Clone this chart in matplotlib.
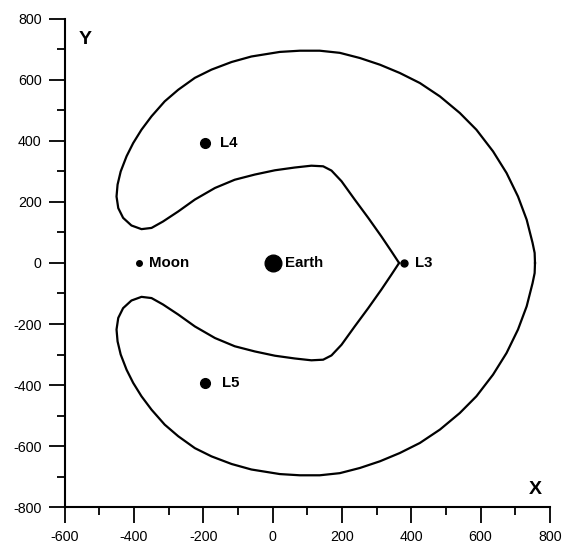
import matplotlib.pyplot as plt

plt.rcParams['font.family'] = ['Liberation Sans', 'DejaVu Sans']
plt.rcParams['axes.unicode_minus'] = False

# upper half of the curve, from the right edge round to the cusp near L3
curve_x = [757, 756, 750, 733, 708, 675, 636, 588, 540, 483, 425, 367, 310, 252,
           194, 136, 79, 21, -61, -118, -176, -224, -272, -311, -349, -378,
           -402, -421, -438, -447, -450, -445, -431, -407, -378, -349, -316,
           -272, -224, -166, -109, -51, 7, 64, 112, 146, 170, 199, 237, 276,
           314, 343, 365]
curve_y = [0, 33, 66, 142, 218, 295, 366, 437, 492, 546, 590, 623, 650, 672,
           689, 696, 696, 692, 677, 659, 634, 607, 568, 530, 481, 437,
           393, 350, 300, 257, 218, 180, 148, 123, 111, 115, 136,
           169, 208, 246, 273, 290, 304, 313, 319, 317, 303, 268, 208, 148,
           87, 38, 0]

# bodies and lagrange points
names = ['Moon', 'Earth', 'L3', 'L4', 'L5']
pts_x = [-385, 0, 379, -195, -195]
pts_y = [0, 0, 0, 395, -392]
pt_size = [4, 12, 5, 7, 7]
lbl_x = [-357, 36, 410, -152, -147]

fig = plt.figure(figsize=(5.64, 5.47), dpi=100)
ax = fig.add_axes([0.1144, 0.0731, 0.8606, 0.8922])

ax.plot(curve_x, curve_y, color='black', lw=1.6, solid_joinstyle='round')
ax.plot(curve_x, [-v for v in curve_y], color='black', lw=1.6,
        solid_joinstyle='round')

for i in range(len(names)):
    ax.plot(pts_x[i], pts_y[i], 'o', color='black', ms=pt_size[i])
    ax.text(lbl_x[i], pts_y[i], names[i], fontsize=10.8, fontweight='bold',
            va='center', ha='left')

ax.set_xlim(-600, 800)
ax.set_ylim(-800, 800)
ax.set_xticks(range(-600, 801, 200))
ax.set_yticks(range(-800, 801, 200))
ax.set_xticks(range(-500, 800, 200), minor=True)
ax.set_yticks(range(-700, 800, 200), minor=True)

for s in ['top', 'right']:
    ax.spines[s].set_visible(False)
for s in ['left', 'bottom']:
    ax.spines[s].set_linewidth(1.5)

ax.tick_params(which='major', direction='out', length=11.5, width=1.3,
               labelsize=10.3, pad=5)
ax.tick_params(which='minor', direction='out', length=5.5, width=1.3)

ax.text(0.03, 0.957, 'Y', transform=ax.transAxes, fontsize=14,
        fontweight='bold', va='center', ha='left')
ax.text(0.969, 0.035, 'X', transform=ax.transAxes, fontsize=14,
        fontweight='bold', va='center', ha='center')

fig.savefig('out.png', dpi=100)
